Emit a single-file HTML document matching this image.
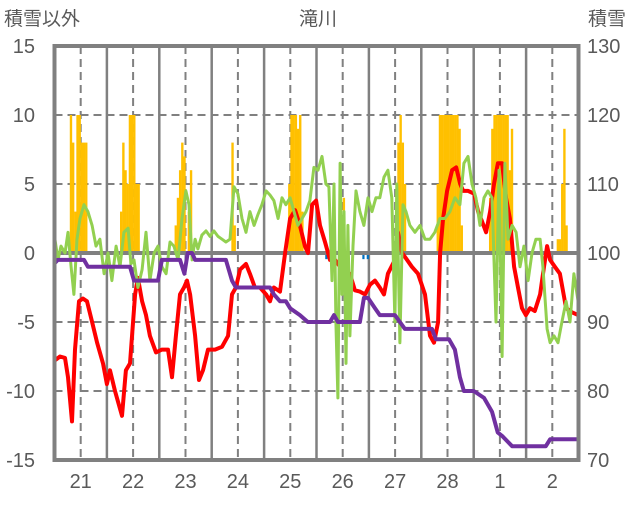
<!DOCTYPE html>
<html><head><meta charset="utf-8"><style>
body{margin:0;background:#fff;width:636px;height:501px;overflow:hidden}
svg text{font-family:"Liberation Sans","Noto Sans CJK JP",sans-serif;fill:#595959}
</style></head><body>
<svg id="chart" width="636" height="501" xmlns="http://www.w3.org/2000/svg">
<text x="318" y="25" text-anchor="middle" font-size="19">滝川</text>
<text x="4" y="25" font-size="19">積雪以外</text>
<text x="588" y="25" font-size="19">積雪</text>
<g id="grid"></g><g id="bars"></g><g id="lines"></g><g id="axes"></g>
</svg>
<script>
const leftTicks=[15,10,5,0,-5,-10,-15];
const rightTicks=[130,120,110,100,90,80,70];
const dayLabels=["21","22","23","24","25","26","27","28","1","2"];
const snowHours=[7,8,9,10,11,12,13,14,30,31,32,33,34,35,36,37,38,55,56,57,58,59,61,62,81,82,107,108,109,110,111,112,113,132,157,158,159,160,175,176,177,178,179,180,181,182,183,184,185,186,199,200,201,202,203,204,205,206,207,208,209,230,231,232,233,234];
const snowVals=[10,8,3,10,10,8,8,8,3,8,6,5,10,10,10,5,5,2,4,6,8,7,3,6,8,2,5,10,10,10,9,10,3,4,8,10,8,5,5,10,10,10,10,10,10,10,10,10,9,2,4,9,10,10,10,10,10,10,10,6,9,1,1,5,9,2];
const blueHours=[124,126,141,143];
const blueVals=[-0.3,-0.3,-0.3,-0.3];
const redH=[0,2.5,4.8,6.2,8,9.4,11.2,13,14.9,17.2,19.5,22.2,24,25.4,27.7,30.9,32.7,34.6,36.9,38.2,40.1,41.9,43.7,46.5,49.2,52,53.8,55.6,57.5,59.3,60.7,62.1,64.4,66.2,68,70.3,73.5,76.7,79.5,81.3,83.1,85,87.7,89.5,91.8,94.1,96.9,98.7,100.5,103.3,105.6,107.9,110.2,112.4,114.7,116.1,118,119.8,121.6,123.9,126.2,128.5,130.8,133,135.3,137.6,139.9,142.2,144.5,146.8,149,150.9,152.7,155.9,157.3,159.2,161.5,163.7,166.5,169.7,172,173.8,175.7,176.6,178,179.8,182.1,184,185.8,187.2,189.5,192.2,194,195.8,197.7,199.5,201.3,203.1,205,206.8,208.6,210.5,212.3,214.1,215.9,217.8,220,222.4,224.2,225.6,227,229.2,231.5,234.3,237,239.8];
const redV=[-7.8,-7.5,-7.6,-9,-12.2,-7,-3.5,-3.3,-3.5,-5,-6.5,-8,-9.5,-8.5,-10,-11.8,-8.5,-8,-3,-1.8,-3.5,-4.5,-6,-7.2,-7,-7,-9,-6,-3,-2.5,-2,-3,-6,-9.2,-8.5,-7,-7,-6.8,-6,-3,-2.5,-1.2,-0.8,-1.5,-2.5,-2.5,-3,-3.5,-2.5,-2.8,0,2.5,3.1,2,0.5,0,3.5,3.8,2,0.8,-0.5,-0.5,-1,-1.5,-1.5,-2.7,-2.8,-3,-2.3,-2,-2.5,-3,-1.5,-0.5,1.5,0,-0.5,-1,-1.5,-3,-6,-6.5,-5,0,2.5,4.5,6,6.2,5,4.5,4.5,4.3,3,2.3,1.5,3,5,6.5,6.5,4,2.5,-1,-2.5,-4,-4.5,-4,-4.2,-3,-1,0.5,-0.5,-1,-1.5,-4,-4.3,-4.5];
const greenH=[0,1.6,3,4.8,6.2,7.6,8.9,10.3,11.7,13.5,15.3,17.2,19,20.8,22.7,24.5,26.3,28.2,30,31.8,33.7,35,36.4,38.2,40.1,41.9,43.7,45.6,47.4,49.2,51.1,52.9,54.7,56.6,58.4,60.2,61.6,63,64.4,65.7,67.5,69.4,71.2,73,74.9,76.7,78.5,80.4,82.2,84,85.9,87.7,89.5,91.4,93.2,95,96.9,98.7,100.5,102.4,104.2,106,107.9,109.7,111.5,113.4,115.2,117,118.8,120.7,122.5,124.3,125.7,127.1,128,128.9,129.8,130.8,131.7,132.6,133.5,134.4,135.3,136.7,138.1,139.9,141.7,143.6,145.4,147.2,149,150.9,152.7,154.5,155.9,156.8,158.2,159.6,161,162.8,165.1,167.4,169.7,172,174.2,176.5,178.8,181.1,183.4,185.7,187.5,189.4,191.2,193,194.9,196.7,198.5,200.4,202.2,203.6,205,206.3,207.7,209.6,211.4,213.2,215,216.9,218.7,220.5,222.4,223.7,225.6,227,228.8,230.6,232.4,234.3,236.1,237.9,239.8];
const greenV=[1.2,-0.5,0.5,0,1.5,-1,-3,1,2.5,3.5,3,2,0.5,1,-1.5,0,-2,0.5,-1,1.5,1.8,-0.8,-0.5,-2.5,-1.2,1.5,-2,0,0.5,-1,-1.5,0.8,0.5,-0.5,2.5,4.5,3.5,-0.5,1,0.3,1.3,1.6,1.2,1.6,1.2,1,0.8,1,4.8,4.3,2.5,1.5,3,2,2.8,3.5,4.5,4.2,3.8,2.5,4,3.5,4,3,2,2.5,3,3.8,6.2,6,7,5,4.8,-2,5,-5,-10.5,6.5,-3,3,-8,2,-6,0.5,4.5,3,2,4,3,4,4,5.5,6,4,-5,5,-6.5,3.5,3,2,1.5,2,1,1,1.5,2.5,2.5,3,4,3.5,6.5,7,5,4,2,4,4.5,4,-5,6,-7.5,6.5,1,2,1.5,-1,0.5,-2,0,1,1,-1,-5.5,-6.5,-6,-6.5,-5,-3.5,-5,-1.5,-3.5];
const purpleH=[0,1.5,13.5,15.3,34.6,36.4,47.4,49.2,57.5,59.5,61,63,64.4,76.7,78.5,81.3,83.1,98.7,100.5,103.3,106,107.9,112.4,116,126.2,128,129.8,139.9,141.7,143.6,146.8,149,155.9,158.2,160.5,172.9,174.7,180.7,183.4,185.7,187.5,192,196.7,200.4,203,205,209.6,225,227,240];
const purpleV=[98.5,99,99,98,98,96,96,99,99,97,100,100,99,99,99,96,95,95,94,93,93,92,91,90,90,91,90,90,93.5,93.5,92,91,91,90,89,89,87.5,87.5,86,82,80,80,79,77,74,73.5,72,72,73,73];

const L=54.5,R=578.5,T=46,B=460;
const X=h=>L+h*(R-L)/240;
const Y=v=>253-v*(B-T)/30;
const Yr=v=>B-(v-70)*(B-T)/60;
const NS="http://www.w3.org/2000/svg";
function mk(tag,attrs,parent){const e=document.createElementNS(NS,tag);for(const k in attrs)e.setAttribute(k,attrs[k]);document.getElementById(parent).appendChild(e);return e;}

// grid
leftTicks.forEach(v=>{
  if(v===15||v===-15||v===0)return;
  const g=mk('line',{x1:L,x2:R,y1:Y(v),y2:Y(v),stroke:'#808080','stroke-width':2,'stroke-dasharray':'8,5'},'grid');
  
  
});
dayLabels.forEach((d,i)=>{
  const dl=mk('line',{x1:X(12+24*i),x2:X(12+24*i),y1:T,y2:B,stroke:'#808080','stroke-width':2,'stroke-dasharray':'8,5'},'grid');
  
  
  if(i>0){
    const sl=mk('line',{x1:X(24*i),x2:X(24*i),y1:T,y2:B,stroke:'#808080','stroke-width':2.5},'grid');
    
    
  }
});
// bars
const bw=(R-L)/240;
snowHours.forEach((h,i)=>{
  const v=snowVals[i];
  const r=mk('rect',{x:X(h),y:Y(v),width:bw+0.2,height:Y(0)-Y(v),fill:'#ffc000'},'bars');
  
  
});
blueHours.forEach((h,i)=>{
  const v=blueVals[i];
  const r=mk('rect',{x:X(h),y:Y(0),width:bw,height:Y(v)-Y(0)+2,fill:'#0070c0'},'bars');
  
  
});
// zero line
const z=mk('line',{x1:L,x2:R,y1:Y(0),y2:Y(0),stroke:'#808080','stroke-width':4},'bars');


// lines
function poly(hs,vs,yf,color,w,name){
  const p=hs.map((h,i)=>X(h).toFixed(1)+','+yf(vs[i]).toFixed(1)).join(' ');
  const e=mk('polyline',{points:p,fill:'none',stroke:color,'stroke-width':w,'stroke-linejoin':'round'},'lines');
  return e;
}
const red=poly(redH,redV,Y,'#ff0000',4,'');


const green=poly(greenH,greenV,Y,'#92d050',3,'');


const purple=poly(purpleH,purpleV,Yr,'#7030a0',4,'');


// frame & labels
const f=mk('rect',{x:L,y:T,width:R-L,height:B-T,fill:'none',stroke:'#808080','stroke-width':4},'axes');


leftTicks.forEach(v=>{
  const t=mk('text',{x:35,y:Y(v)+7,'text-anchor':'end','font-size':20},'axes');
  t.textContent=v;
  
  
});
rightTicks.forEach(v=>{
  const t=mk('text',{x:587,y:Yr(v)+7,'font-size':20},'axes');
  t.textContent=v;
  
  
});
dayLabels.forEach((d,i)=>{
  const t=mk('text',{x:X(12+24*i),y:488,'text-anchor':'middle','font-size':20},'axes');
  t.textContent=d;
  
  
});
</script>
</body></html>
